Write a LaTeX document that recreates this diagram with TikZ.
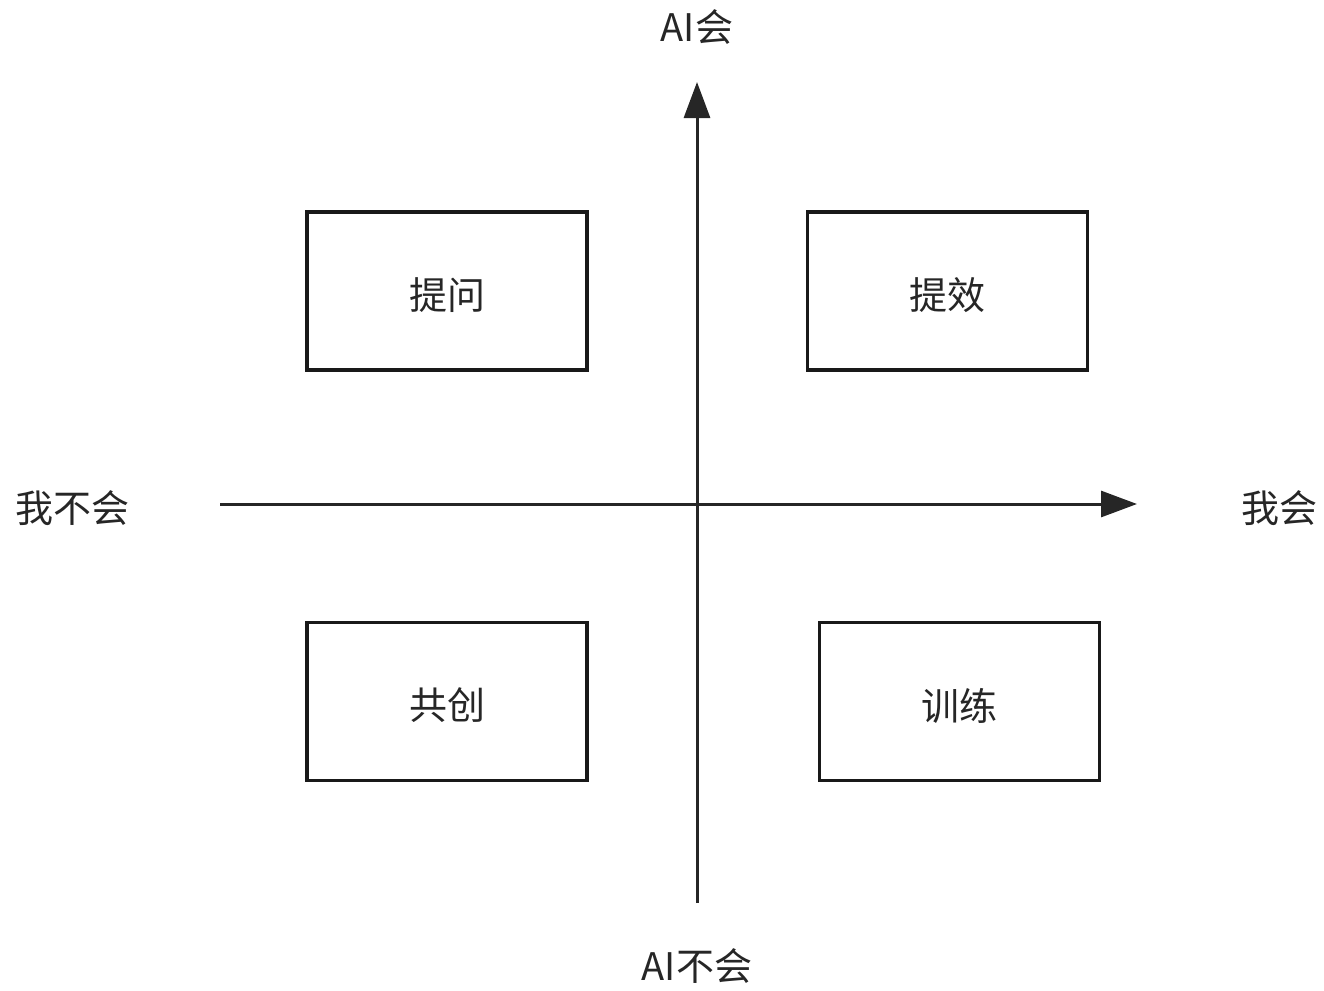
\documentclass[tikz,border=0pt]{standalone}
\usepackage{fontspec}
\setmainfont{Noto Sans CJK SC}
\usetikzlibrary{arrows.meta}
\newcommand{\lowtext}[1]{\raisebox{-4pt}[\height][\depth]{#1}}
\tikzset{
  quad/.style={draw=black!90, line width=3.2pt, minimum width=280pt, minimum height=158pt, inner sep=0pt, font=\fontsize{38}{42}\selectfont, text=black!85},
  axis/.style={line width=3pt, draw=black!85, -{Triangle[length=36pt,width=26pt]}},
  lab/.style={font=\fontsize{38}{42}\selectfont, text=black!85, inner sep=0pt}
}
\begin{document}
\begin{tikzpicture}[x=1pt,y=-1pt]
\useasboundingbox (0,0) rectangle (1324,990);
\node[quad] (tw) at (447,291) {\lowtext{提问}};
\node[quad] (tx) at (947.5,291) {\lowtext{提效}};
\node[quad] (gc) at (447,701.5) {\lowtext{共创}};
\node[quad] (xl) at (959.5,701.5) {\lowtext{训练}};
\coordinate (vb) at (697,903);
\coordinate (vt) at (697,82);
\coordinate (hl) at (220,504);
\coordinate (hr) at (1137,504);
\draw[axis] (vb) -- (vt);
\draw[axis] (hl) -- (hr);
\node[lab] (aiyes) at (697,27) {AI会};
\node[lab] (aino) at (697,966) {AI不会};
\node[lab] (ino) at (72,508) {我不会};
\node[lab] (iyes) at (1279,508) {我会};
\end{tikzpicture}
\end{document}
